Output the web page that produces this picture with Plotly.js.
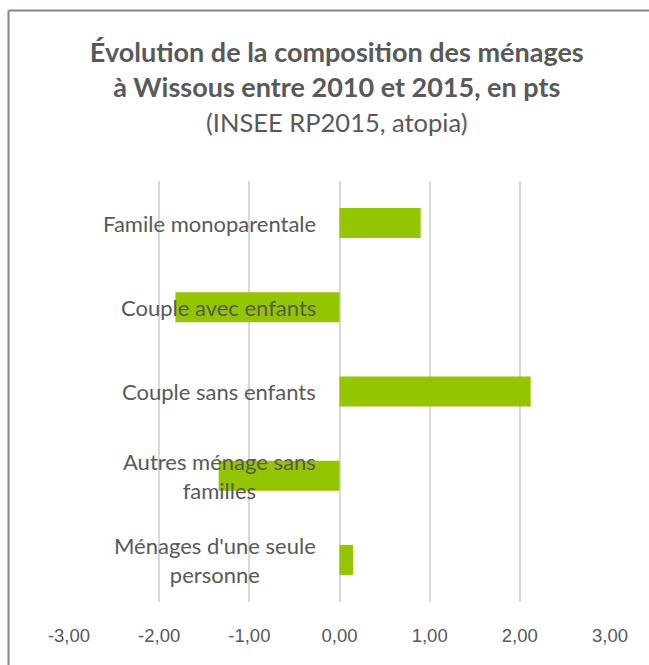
<!DOCTYPE html>
<html>
<head>
<meta charset="utf-8">
<script src="https://cdn.plot.ly/plotly-3.0.1.min.js"></script>
<style>
  html, body { margin: 0; padding: 0; background: #ffffff; }
  #chart { width: 649px; height: 665px; }
</style>
</head>
<body>
<div id="chart"></div>
<script>
// ---- data ----
const categories = [
  "Famile monoparentale",
  "Couple avec enfants",
  "Couple sans enfants",
  "Autres ménage sans<br>familles",
  "Ménages d'une seule<br>personne"
];
const values = [0.90, -1.82, 2.12, -1.34, 0.15];
const tickValues = [-3, -2, -1, 0, 1, 2, 3];
const tickLabels = ["-3,00", "-2,00", "-1,00", "0,00", "1,00", "2,00", "3,00"];
const titleLine1 = "Évolution de la composition des ménages";
const titleLine2 = "à Wissous entre 2010 et 2015, en pts";
const titleLine3 = "(INSEE RP2015, atopia)";

const textColor = "#595959";
const barColor = "#93C500";

const trace = {
  type: "bar",
  orientation: "h",
  x: values,
  y: categories,
  marker: { color: barColor, line: { width: 0 } },
  hoverinfo: "x+y"
};

const annotations = categories.map((c) => ({
  x: 0, y: c, xref: "x", yref: "y",
  xanchor: "right", yanchor: "middle", xshift: -22,
  align: "center", showarrow: false,
  text: c,
  font: { family: "Lato, sans-serif", size: 22, color: textColor }
}));

const layout = {
  width: 649, height: 665,
  paper_bgcolor: "#ffffff", plot_bgcolor: "#ffffff",
  margin: { l: 69, r: 39, t: 181, b: 63 },
  showlegend: false,
  bargap: 0.644,
  title: {
    text: "<b>" + titleLine1 + "</b><br><b>" + titleLine2 + "</b><br><span style='font-size:25.5px'>" + titleLine3 + "</span>",
    font: { family: "Lato, sans-serif", size: 27, color: textColor },
    x: 0.495, xanchor: "center", xref: "paper",
    y: 1 - 62 / 665, yanchor: "top", yref: "container"
  },
  xaxis: {
    range: [-3, 3],
    tickvals: tickValues,
    ticktext: tickLabels,
    showgrid: true, gridcolor: "#d9d9d9", gridwidth: 2,
    zeroline: true, zerolinecolor: "#d9d9d9", zerolinewidth: 2,
    showline: false, ticks: "",
    ticklabelstandoff: 20,
    tickfont: { family: "'Liberation Sans', Arial, sans-serif", size: 18.5, color: textColor },
    fixedrange: true
  },
  yaxis: {
    type: "category",
    autorange: "reversed",
    showticklabels: false, showgrid: false, zeroline: false, showline: false, ticks: "",
    fixedrange: true
  },
  annotations: annotations,
  shapes: [
    { type: "line", xref: "paper", yref: "paper", x0: (8.5 - 69) / 541, x1: (649 - 69) / 541 + 0.05, y0: 1 + (181 - 10.5) / 421, y1: 1 + (181 - 10.5) / 421, line: { color: "#8c8579", width: 2 } },
    { type: "line", xref: "paper", yref: "paper", x0: (8.5 - 69) / 541, x1: (8.5 - 69) / 541, y0: 1 + (181 - 10.5) / 421, y1: -0.2, line: { color: "#8c8579", width: 2 } }
  ]
};

Plotly.newPlot("chart", [trace], layout, { displayModeBar: false, staticPlot: false });
</script>
</body>
</html>
